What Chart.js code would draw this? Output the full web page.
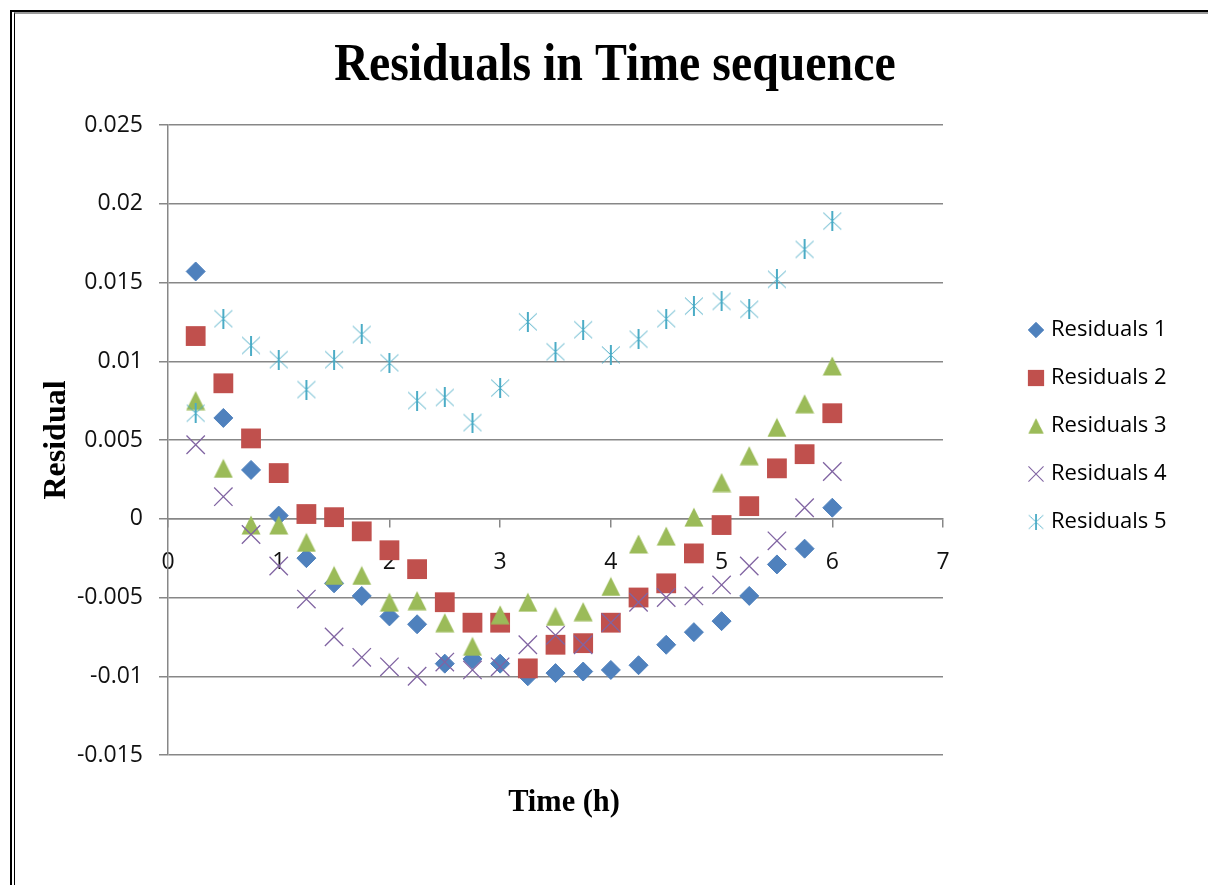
<!DOCTYPE html>
<html>
<head>
<meta charset="utf-8">
<title>Residuals in Time sequence</title>
<script src="https://cdn.jsdelivr.net/npm/chart.js@4.4.1/dist/chart.umd.min.js"></script>
<style>
  html, body { margin: 0; padding: 0; background: #fff; overflow: hidden; }
  .wrap { position: relative; width: 1208px; height: 885px; overflow: hidden; }
  .frame { position: absolute; left: 10px; top: 10px; width: 1400px; height: 1000px; border-left: 2px solid #000; border-top: 2px solid #000; }
  .frame::after { content: ''; position: absolute; left: 2px; top: 0; right: 0; bottom: 0; border-left: 1px solid #000; border-top: 2px solid #999; }
  canvas { position: absolute; left: 0; top: 0; }
</style>
</head>
<body>
<div class="wrap">
  <div class="frame"></div>
  <canvas id="chart" width="1208" height="885"></canvas>
</div>
<script>
const chartTitle = 'Residuals in Time sequence';
const xTitle = 'Time (h)';
const yTitle = 'Residual';

const times = [0.25, 0.5, 0.75, 1, 1.25, 1.5, 1.75, 2, 2.25, 2.5, 2.75, 3,
               3.25, 3.5, 3.75, 4, 4.25, 4.5, 4.75, 5, 5.25, 5.5, 5.75, 6];

const residuals1 = [0.0157, 0.0064, 0.0031, 0.0002, -0.0025, -0.0041, -0.0049, -0.0062,
                    -0.0067, -0.0092, -0.0089, -0.0092, -0.0100, -0.0098, -0.0097, -0.0096,
                    -0.0093, -0.0080, -0.0072, -0.0065, -0.0049, -0.0029, -0.0019, 0.0007];
const residuals2 = [0.0116, 0.0086, 0.0051, 0.0029, 0.0003, 0.0001, -0.0008, -0.0020,
                    -0.0032, -0.0053, -0.0066, -0.0066, -0.0095, -0.0080, -0.0079, -0.0066,
                    -0.0050, -0.0041, -0.0022, -0.0004, 0.0008, 0.0032, 0.0041, 0.0067];
const residuals3 = [0.0075, 0.0032, -0.0004, -0.0004, -0.0015, -0.0036, -0.0036, -0.0053,
                    -0.0052, -0.0066, -0.0081, -0.0061, -0.0053, -0.0062, -0.0059, -0.0043,
                    -0.0016, -0.0011, 0.0001, 0.0023, 0.0040, 0.0058, 0.0073, 0.0097];
const residuals4 = [0.0047, 0.0014, -0.0010, -0.0030, -0.0051, -0.0075, -0.0088, -0.0094,
                    -0.0100, -0.0091, -0.0096, -0.0094, -0.0080, -0.0074, -0.0080, -0.0066,
                    -0.0053, -0.0050, -0.0049, -0.0042, -0.0030, -0.0014, 0.0007, 0.0030];
const residuals5 = [0.0067, 0.0127, 0.0110, 0.0101, 0.0082, 0.0101, 0.0117, 0.0099,
                    0.0075, 0.0077, 0.0061, 0.0083, 0.0125, 0.0106, 0.0120, 0.0104,
                    0.0114, 0.0127, 0.0135, 0.0138, 0.0133, 0.0152, 0.0171, 0.0189];

const seriesNames = ['Residuals 1', 'Residuals 2', 'Residuals 3', 'Residuals 4', 'Residuals 5'];
const seriesColors = ['#4F81BD', '#C0504D', '#9BBB59', '#8064A2', '#4BACC6'];

const xTicks = [0, 1, 2, 3, 4, 5, 6, 7];
const yTicks = [-0.015, -0.01, -0.005, 0, 0.005, 0.01, 0.015, 0.02, 0.025];

// excel-like markers that chart.js has no built-in for
function markerCanvas(size, draw) {
  const c = document.createElement('canvas');
  c.width = size; c.height = size;
  draw(c.getContext('2d'), size);
  return c;
}

const triangleMarker = markerCanvas(20, (ctx, s) => {
  ctx.fillStyle = seriesColors[2];
  ctx.beginPath();
  ctx.moveTo(s / 2, 0.5);
  ctx.lineTo(s - 0.5, s - 0.5);
  ctx.lineTo(0.5, s - 0.5);
  ctx.closePath();
  ctx.fill();
});

const asteriskMarker = markerCanvas(20, (ctx, s) => {
  ctx.strokeStyle = seriesColors[4];
  ctx.lineWidth = 1;
  ctx.beginPath();
  ctx.moveTo(1, 1.5); ctx.lineTo(s - 1, s - 1.5);
  ctx.moveTo(s - 1, 1.5); ctx.lineTo(1, s - 1.5);
  ctx.stroke();
  ctx.lineWidth = 2;
  ctx.beginPath();
  ctx.moveTo(s / 2, 0); ctx.lineTo(s / 2, s);
  ctx.stroke();
});

const toPoints = ys => ys.map((y, i) => ({ x: times[i], y }));

const styles = [
  { pointStyle: 'rectRot', pointRadius: 9.5, pointBorderWidth: 1 },
  { pointStyle: 'rect', pointRadius: 14, pointBorderWidth: 0 },
  { pointStyle: triangleMarker, pointRadius: 10, pointBorderWidth: 0 },
  { pointStyle: 'crossRot', pointRadius: 13, pointBorderWidth: 1.3 },
  { pointStyle: asteriskMarker, pointRadius: 10, pointBorderWidth: 0 }
];

const allSeries = [residuals1, residuals2, residuals3, residuals4, residuals5];

const datasets = allSeries.map((ys, i) => ({
  label: seriesNames[i],
  data: toPoints(ys),
  showLine: false,
  backgroundColor: seriesColors[i],
  borderColor: seriesColors[i],
  pointBackgroundColor: seriesColors[i],
  pointBorderColor: seriesColors[i],
  pointHoverRadius: styles[i].pointRadius,
  order: allSeries.length - i,   // later series drawn on top
  ...styles[i]
}));

const gridGray = '#878787';

const textPlugin = {
  id: 'chartTexts',
  afterDraw(chart) {
    const ctx = chart.ctx;
    const area = chart.chartArea;
    ctx.save();
    ctx.fillStyle = '#000';
    ctx.textAlign = 'center';

    ctx.font = 'bold 52px "Liberation Serif", "Times New Roman", serif';
    ctx.textBaseline = 'alphabetic';
    ctx.save();
    ctx.translate(615, 80);
    ctx.scale(0.92, 1);
    ctx.fillText(chartTitle, 0, 0);
    ctx.restore();

    ctx.font = 'bold 32px "Liberation Serif", "Times New Roman", serif';
    ctx.textBaseline = 'middle';
    ctx.save();
    ctx.translate(57, (area.top + area.bottom) / 2);
    ctx.rotate(-Math.PI / 2);
    ctx.fillText(yTitle, 0, 0);
    ctx.restore();

    ctx.save();
    ctx.translate(564, 803);
    ctx.scale(0.95, 1);
    ctx.fillText(xTitle, 0, 0);
    ctx.restore();

    ctx.restore();
  }
};

const legendPlugin = {
  id: 'sideLegend',
  afterDraw(chart) {
    const ctx = chart.ctx;
    const area = chart.chartArea;
    const markerX = area.right + 93;
    ctx.save();
    ctx.font = '22px "Open Sans", sans-serif';
    ctx.textBaseline = 'middle';
    ctx.textAlign = 'left';
    chart.data.datasets.forEach((ds, i) => {
      const y = 330 + i * 48;
      ctx.save();
      ctx.translate(markerX, y);
      ctx.scale(0.82, 0.82);
      ctx.fillStyle = ds.pointBackgroundColor;
      ctx.strokeStyle = ds.pointBorderColor;
      ctx.lineWidth = ds.pointBorderWidth || 1;
      Chart.helpers.drawPoint(ctx, {
        pointStyle: ds.pointStyle,
        radius: ds.pointRadius,
        rotation: 0,
        borderWidth: ds.pointBorderWidth
      }, 0, 0);
      ctx.restore();
      ctx.fillStyle = '#000';
      ctx.fillText(ds.label, markerX + 15, y);
    });
    ctx.restore();
  }
};

new Chart(document.getElementById('chart'), {
  type: 'scatter',
  data: { datasets },
  options: {
    responsive: false,
    devicePixelRatio: 1,
    animation: false,
    layout: { padding: { left: 0, right: 265, top: 125, bottom: 130 } },
    plugins: {
      legend: { display: false },
      title: { display: false },
      tooltip: { enabled: false }
    },
    scales: {
      x: {
        type: 'linear',
        position: { y: 0 },
        min: 0,
        max: 7,
        afterBuildTicks: s => { s.ticks = xTicks.map(v => ({ value: v })); },
        grid: { drawOnChartArea: false, drawTicks: true, tickLength: 8, color: gridGray, lineWidth: 1.5 },
        border: { color: gridGray, width: 1.5 },
        ticks: {
          padding: 22,
          autoSkip: false,
          maxRotation: 0,
          color: '#111',
          font: { family: 'Open Sans', size: 23 },
          callback: v => String(v)
        }
      },
      y: {
        type: 'linear',
        position: 'left',
        min: -0.015,
        max: 0.025,
        afterBuildTicks: s => { s.ticks = yTicks.map(v => ({ value: v })); },
        afterFit: s => { s.width = 168; },
        grid: { color: gridGray, lineWidth: 1.5, tickLength: 9, drawTicks: true },
        border: { color: gridGray, width: 1.5 },
        ticks: {
          padding: 16,
          color: '#111',
          font: { family: 'Open Sans', size: 23 },
          callback: v => String(v)
        }
      }
    }
  },
  plugins: [textPlugin, legendPlugin]
});
</script>
</body>
</html>
